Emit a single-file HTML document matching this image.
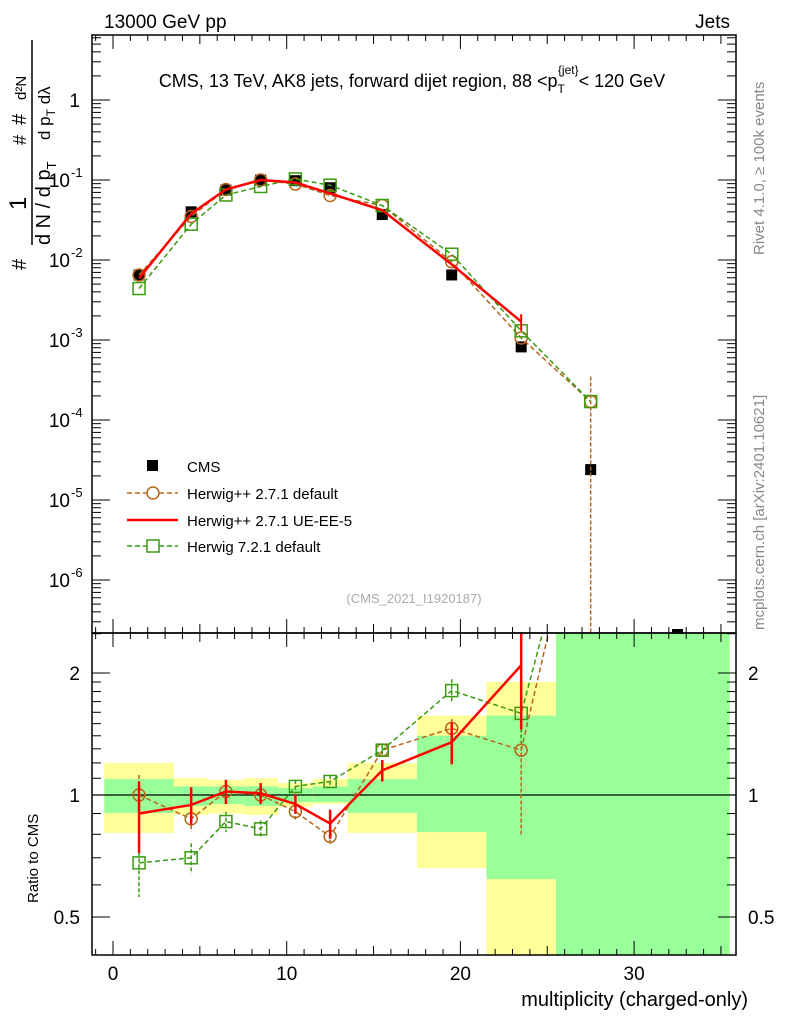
<!DOCTYPE html>
<html><head><meta charset="utf-8"><style>
body{margin:0;background:#fff;}
svg{display:block;font-family:"Liberation Sans",sans-serif;}
</style></head><body>
<svg id="chartsvg" width="786" height="1024" viewBox="0 0 786 1024">
<defs>
<clipPath id="clipMain"><rect x="92" y="35" width="644" height="598"/></clipPath>
<clipPath id="clipRatio"><rect x="92" y="633" width="644" height="322"/></clipPath>
</defs>
<text x="104" y="28" font-size="19">13000 GeV pp</text>
<text x="730" y="28" font-size="19" text-anchor="end">Jets</text>
<text x="412" y="87" font-size="18" text-anchor="middle">CMS, 13 TeV, AK8 jets, forward dijet region, 88 &lt;p<tspan font-size="12" dy="6">T</tspan><tspan font-size="12" dy="-19" dx="-7">{jet}</tspan><tspan dy="13">&lt; 120 GeV</tspan></text>
<text transform="translate(764,255) rotate(-90)" font-size="15" fill="#888">Rivet 4.1.0, ≥ 100k events</text>
<text transform="translate(764,630) rotate(-90)" font-size="15" fill="#888">mcplots.cern.ch [arXiv:2401.10621]</text>
<g font-size="20">
<text transform="translate(26,270) rotate(-90)">#</text>
<text transform="translate(26,210) rotate(-90)" font-size="24">1</text>
<line x1="32" y1="245" x2="32" y2="40" stroke="#000" stroke-width="1.5"/>
<text transform="translate(50,245) rotate(-90)">d N / d p<tspan font-size="13" dy="6">T</tspan></text>
<text transform="translate(26,145) rotate(-90)" font-size="18">#</text>
<text transform="translate(26,125) rotate(-90)">#</text>
<text transform="translate(26,100) rotate(-90)" font-size="15">d²N</text>
<text transform="translate(50,140) rotate(-90)" font-size="17">d p<tspan font-size="12" dy="5">T</tspan><tspan dy="-5"> dλ</tspan></text>
</g>
<text transform="translate(38,903) rotate(-90)" font-size="15">Ratio to CMS</text>
<text x="748" y="1006" font-size="20" text-anchor="end">multiplicity (charged-only)</text>
<text x="414" y="603" font-size="13" fill="#aaa" text-anchor="middle">(CMS_2021_I1920187)</text>
<g id="bands"></g>
<g id="gm" clip-path="url(#clipMain)"></g>
<g id="gr" clip-path="url(#clipRatio)"></g>
<g id="axes"></g>
<rect x="672" y="629" width="11" height="5" fill="#000"/>
<g font-size="15">
<rect x="147" y="460" width="11" height="11" fill="#000"/>
<text x="187" y="472">CMS</text>
<line x1="127" y1="493" x2="178" y2="493" stroke="#b8651a" stroke-width="1.5" stroke-dasharray="5,3"/>
<circle cx="153" cy="493" r="6" fill="#fff" stroke="#b8651a" stroke-width="1.5"/>
<text x="187" y="499">Herwig++ 2.7.1 default</text>
<line x1="127" y1="520" x2="178" y2="520" stroke="#f00" stroke-width="2.5"/>
<text x="187" y="526">Herwig++ 2.7.1 UE-EE-5</text>
<line x1="127" y1="546" x2="178" y2="546" stroke="#3a9a10" stroke-width="1.5" stroke-dasharray="5,3"/>
<rect x="147" y="540" width="12" height="12" fill="#fff" stroke="#3a9a10" stroke-width="1.5"/>
<text x="187" y="552">Herwig 7.2.1 default</text>
</g>
</svg>
<script>
var xs=[1.5,4.5,6.5,8.5,10.5,12.5,15.5,19.5,23.5,27.5];
var cms=[0.0065,0.04,0.075,0.1,0.098,0.08,0.037,0.0065,0.00082,0.000024];
var hppDef=[0.0065,0.035,0.076,0.1,0.089,0.064,0.048,0.0095,0.00106,0.00017];
var hppUE=[0.0059,0.038,0.076,0.1,0.093,0.068,0.042,0.0088,0.0017];
var h7=[0.0044,0.028,0.065,0.083,0.103,0.086,0.048,0.0118,0.0013,0.00017];
var rDef=[1.0,0.873,1.02,1.0,0.91,0.79,1.29,1.46,1.29,7];
var rUE=[0.90,0.945,1.02,1.01,0.95,0.85,1.15,1.35,2.09];
var rH7=[0.68,0.70,0.86,0.825,1.05,1.08,1.29,1.81,1.59,7];
var rDefErr=[0.12,0.06,0.05,0.04,0.04,0.04,0.04,0.08,0.5];
var rUEErr=[0.18,0.1,0.07,0.06,0.05,0.07,0.07,0.16,0.64];
var rH7Err=[0.12,0.06,0.05,0.04,0.04,0.04,0.04,0.12,0.2];
var edges=[-0.5,3.5,5.5,7.5,9.5,11.5,13.5,17.5,21.5,25.5,35.5];
var yelLo=[0.806,0.893,0.90,0.893,0.935,0.95,0.806,0.66,0.30,0.30];
var yelHi=[1.199,1.10,1.09,1.10,1.07,1.095,1.199,1.57,1.90,3];
var grnLo=[0.903,0.94,0.95,0.94,0.96,0.96,0.903,0.81,0.62,0.30];
var grnHi=[1.095,1.05,1.05,1.05,1.04,1.05,1.095,1.40,1.57,3];
var xTicks=[0,10,20,30];
var mainTicks=[1,0.1,0.01,0.001,0.0001,0.00001,0.000001];
var mainExp=['','-1','-2','-3','-4','-5','-6'];
var ratioTicks=[0.5,1,2];

var PL=92,PR=736,PT=35,PMB=633,PB=955;
function X(v){return 113+v*17.37;}
function Y(v){return 100-80*Math.log10(v);}
function RY(v){return 795-122*Math.log2(v);}
var SVGNS='http://www.w3.org/2000/svg';
function mk(parent,tag,at){
  var e=document.createElementNS(SVGNS,tag);
  for(var k in at){e.setAttribute(k,String(at[k]));}
  document.getElementById(parent).appendChild(e);
  return e;
}
try{
for(var i=0;i<edges.length-1;i++){
  var x1=X(edges[i]),x2=X(edges[i+1]);
  var yt=Math.max(PMB,RY(yelHi[i])),yb=Math.min(PB,RY(yelLo[i]));
  var e1=mk('bands','rect',{x:x1,y:yt,width:x2-x1,height:Math.max(0,yb-yt),fill:'#ffff99'});
  
  
  var gt=Math.max(PMB,RY(grnHi[i])),gb=Math.min(PB,RY(grnLo[i]));
  var e2=mk('bands','rect',{x:x1,y:gt,width:x2-x1,height:Math.max(0,gb-gt),fill:'#99ff99'});
  
  
}
}catch(err){console.log(err);}
try{
var l1=mk('gr','line',{x1:PL,x2:PR,y1:RY(1),y2:RY(1),stroke:'#000','stroke-width':1.2});


}catch(err){console.log(err);}
function series(g,vals,yf,col,w,dash,marker,name,errs){
  if(w>0){
    var pts=[];
    for(var i=0;i<vals.length;i++){pts.push(X(xs[i])+','+yf(vals[i]));}
    var p=mk(g,'polyline',{points:pts.join(' '),fill:'none',stroke:col,'stroke-width':w});
    if(dash){p.setAttribute('stroke-dasharray',dash);}
    
    
  }
  for(var j=0;j<vals.length;j++){
    var v=vals[j],cx=X(xs[j]),cy=yf(v);
    if(errs && j<errs.length){
      var lo=Math.max(0.05,v-errs[j]);
      var el=mk(g,'line',{x1:cx,x2:cx,y1:yf(v+errs[j]),y2:yf(lo),stroke:col,'stroke-width':w});
      if(dash){el.setAttribute('stroke-dasharray','4,2');}
    }
    var m=null;
    if(marker==='c'){m=mk(g,'circle',{cx:cx,cy:cy,r:6,fill:'none',stroke:col,'stroke-width':1.5});}
    else if(marker==='s'){m=mk(g,'rect',{x:cx-6,y:cy-6,width:12,height:12,fill:'none',stroke:col,'stroke-width':1.5});}
    else if(marker==='b'){m=mk(g,'rect',{x:cx-5.5,y:cy-5.5,width:11,height:11,fill:'#000'});}
    if(m){}
  }
}
try{
series('gm',cms,Y,'#000',0,null,'b','cms',null);
series('gm',hppDef,Y,'#b8651a',1.5,'5,3','c','herwigpp-default',null);
series('gm',h7,Y,'#3a9a10',1.5,'5,3','s','herwig7-default',null);
series('gm',hppUE,Y,'#f00',2.5,null,'','herwigpp-ueee5',null);
var ev=mk('gm','line',{x1:X(27.5),x2:X(27.5),y1:Y(0.00035),y2:PMB,stroke:'#b8651a','stroke-width':1.5,'stroke-dasharray':'4,2'});


var ev2=mk('gm','line',{x1:X(23.5),x2:X(23.5),y1:Y(0.0021),y2:Y(0.0013),stroke:'#f00','stroke-width':2});


series('gr',rDef,RY,'#b8651a',1.5,'5,3','c','ratio-herwigpp-default',rDefErr);
series('gr',rH7,RY,'#3a9a10',1.5,'5,3','s','ratio-herwig7-default',rH7Err);
series('gr',rUE,RY,'#f00',2.5,null,'','ratio-herwigpp-ueee5',rUEErr);
}catch(err){console.log(err);}
try{
mk('axes','rect',{x:PL,y:PT,width:PR-PL,height:PMB-PT,fill:'none',stroke:'#000','stroke-width':1.5});
mk('axes','rect',{x:PL,y:PMB,width:PR-PL,height:PB-PMB,fill:'none',stroke:'#000','stroke-width':1.5});
for(var v=-1;v<=35;v++){
  var len=(v%10===0)?14:((v%5===0)?9:6);
  var x=X(v);
  if(x<PL||x>PR)continue;
  mk('axes','line',{x1:x,x2:x,y1:PT,y2:PT+len,stroke:'#000'});
  mk('axes','line',{x1:x,x2:x,y1:PMB,y2:PMB-len,stroke:'#000'});
  mk('axes','line',{x1:x,x2:x,y1:PMB,y2:PMB+len,stroke:'#000'});
  mk('axes','line',{x1:x,x2:x,y1:PB,y2:PB-len,stroke:'#000'});
}
for(var t=0;t<xTicks.length;t++){
  var tx=mk('axes','text',{x:X(xTicks[t]),y:980,'font-size':19,'text-anchor':'middle'});
  tx.textContent=String(xTicks[t]);
  
  
}
for(var d=-7;d<=0;d++){for(var k=1;k<10;k++){
  var yy=Y(k*Math.pow(10,d));
  if(yy<PT||yy>PMB)continue;
  var ln=(k===1)?18:9;
  mk('axes','line',{x1:PL,x2:PL+ln,y1:yy,y2:yy,stroke:'#000'});
  mk('axes','line',{x1:PR,x2:PR-ln,y1:yy,y2:yy,stroke:'#000'});
}}
for(var q=0;q<mainTicks.length;q++){
  var ty=Y(mainTicks[q]);
  var lab=mk('axes','text',{x:(q===0?80:70),y:ty+7,'font-size':19,'text-anchor':'end'});
  lab.textContent=(q===0)?'1':'10';
  
  
  if(q>0){
    var ex=mk('axes','text',{x:71,y:ty-3,'font-size':13,'text-anchor':'start'});
    ex.textContent=mainExp[q];
    
    
  }
}
var rt=[0.4,0.5,0.6,0.7,0.8,0.9,1,1.1,1.2,1.3,1.4,1.5,1.6,1.7,1.8,1.9,2,2.5];
for(var r=0;r<rt.length;r++){
  var ry=RY(rt[r]);
  if(ry<PMB||ry>PB)continue;
  var big=(rt[r]===0.5||rt[r]===1||rt[r]===2);
  var rl=big?18:9;
  mk('axes','line',{x1:PL,x2:PL+rl,y1:ry,y2:ry,stroke:'#000'});
  mk('axes','line',{x1:PR,x2:PR-rl,y1:ry,y2:ry,stroke:'#000'});
}
for(var s=0;s<ratioTicks.length;s++){
  var sy=RY(ratioTicks[s])+7;
  var a1=mk('axes','text',{x:80,y:sy,'font-size':19,'text-anchor':'end'});
  a1.textContent=String(ratioTicks[s]);
  
  
  var a2=mk('axes','text',{x:748,y:sy,'font-size':19,'text-anchor':'start'});
  a2.textContent=String(ratioTicks[s]);
  
  
}
}catch(err){console.log(err);}
</script>
</body></html>
